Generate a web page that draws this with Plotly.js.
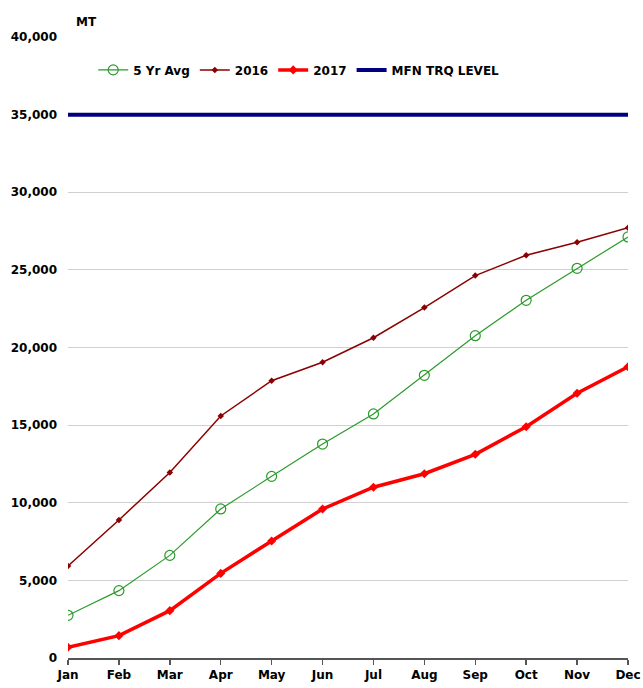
<!DOCTYPE html>
<html>
<head>
<meta charset="utf-8">
<script src="https://cdn.plot.ly/plotly-3.0.1.min.js"></script>
<style>html,body{margin:0;padding:0;background:#fff;}#chart{width:643px;height:688px;}</style>
</head>
<body>
<div id="chart"></div>
<script>
const months = ["Jan","Feb","Mar","Apr","May","Jun","Jul","Aug","Sep","Oct","Nov","Dec"];
const avg5yr = [2750, 4340, 6610, 9600, 11700, 13780, 15720, 18210, 20760, 23040, 25100, 27120];
const y2016 = [5930, 8890, 11950, 15590, 17860, 19050, 20630, 22570, 24630, 25940, 26780, 27720];
const y2017 = [690, 1440, 3050, 5450, 7540, 9600, 11000, 11870, 13120, 14900, 17050, 18760];
const mfnTrq = [35000, 35000, 35000, 35000, 35000, 35000, 35000, 35000, 35000, 35000, 35000, 35000];
const yTicks = [0, 5000, 10000, 15000, 20000, 25000, 30000, 35000, 40000];
const yTickLabels = ["0","5,000","10,000","15,000","20,000","25,000","30,000","35,000","40,000"];

const FONT = "'DejaVu Sans', sans-serif";
const F = {family: FONT, size: 12, color: "#000", weight: "bold"};

const traces = [
  {x: months, y: avg5yr, name: "5 Yr Avg", type: "scatter", mode: "lines+markers",
   line: {color: "#2a9a2a", width: 1.2},
   marker: {symbol: "circle-open", size: 10, color: "#2a9a2a", line: {width: 1.2, color: "#2a9a2a"}}},
  {x: months, y: y2016, name: "2016", type: "scatter", mode: "lines+markers",
   line: {color: "#8b0000", width: 1.5},
   marker: {symbol: "diamond", size: 5, color: "#8b0000"}},
  {x: months, y: y2017, name: "2017", type: "scatter", mode: "lines+markers",
   line: {color: "#ff0000", width: 3.5},
   marker: {symbol: "diamond", size: 7, color: "#ff0000"}},
  {x: months, y: mfnTrq, name: "MFN TRQ LEVEL", type: "scatter", mode: "lines",
   line: {color: "#000080", width: 4}}
];

const layout = {
  width: 643, height: 688,
  margin: {l: 68, r: 15, t: 37, b: 30},
  paper_bgcolor: "#fff", plot_bgcolor: "#fff",
  font: F,
  showlegend: true,
  legend: {orientation: "h", x: 0.045, y: 0.947, xanchor: "left", yanchor: "middle",
           font: F, bgcolor: "rgba(0,0,0,0)", itemwidth: 30, tracegroupgap: 0},
  xaxis: {type: "category", range: [0, 11], showgrid: false, zeroline: false,
          showline: true, linecolor: "#555", linewidth: 1.5,
          ticks: "outside", ticklen: 5, tickcolor: "#555", tickwidth: 1.5,
          tickfont: F, fixedrange: true},
  yaxis: {range: [0, 40000], tickvals: yTicks, ticktext: yTickLabels,
          showgrid: true, gridcolor: "#d0d0d0", gridwidth: 1, zeroline: false,
          showline: false, ticks: "", ticklabelstandoff: 10,
          tickfont: F, fixedrange: true},
  annotations: [{text: "MT", xref: "paper", yref: "paper", x: 0.01, y: 1.01, xanchor: "left", yanchor: "bottom",
                 showarrow: false, font: F}]
};

Plotly.newPlot("chart", traces, layout, {displayModeBar: false, staticPlot: true});
</script>
</body>
</html>
